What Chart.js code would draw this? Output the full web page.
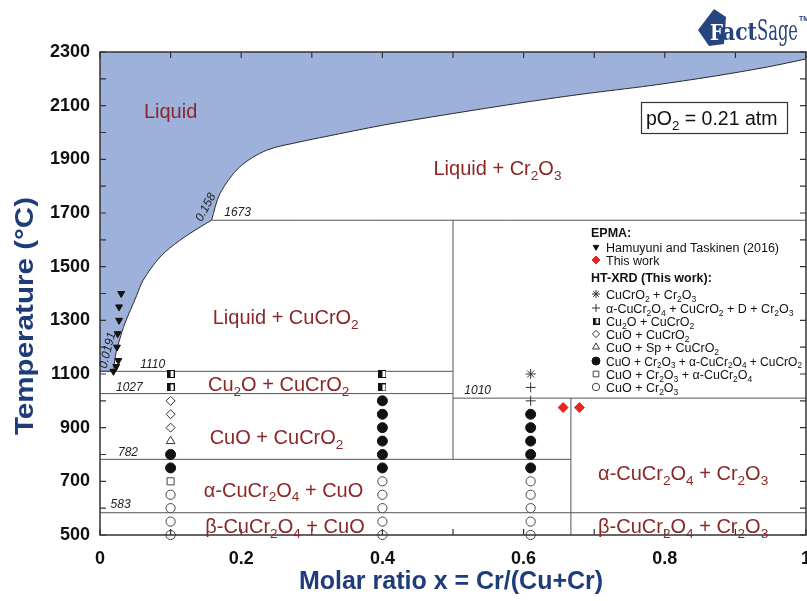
<!doctype html>
<html lang="en">
<head>
<meta charset="utf-8">
<title>CuO-Cr2O3 phase diagram in air</title>
<script src="https://cdn.jsdelivr.net/npm/chart.js@4.4.1/dist/chart.umd.min.js"></script>
<style>
  html, body { margin: 0; padding: 0; background: #fff; }
</style>
</head>
<body>
<canvas id="diagram" width="807" height="601"></canvas>
<script>
// liquidus, x = Cr/(Cu+Cr), T in degC; corners (eutectic, peritectic) are listed twice to keep them sharp
const liquidusX = [0, 0.0191, 0.0191, 0.022, 0.028, 0.035, 0.052, 0.061, 0.085, 0.113, 0.142, 0.158, 0.158, 0.170, 0.198, 0.236, 0.283, 0.32, 0.40, 0.47, 0.59, 0.68, 0.78, 0.87, 0.945, 1.0];
const liquidusT = [1110, 1110, 1110, 1170, 1230, 1287, 1393, 1449, 1536, 1598, 1648, 1673, 1673, 1773, 1872, 1934, 1965, 1985, 2027, 2058, 2108, 2142, 2175, 2210, 2244, 2274];

// invariant lines
const isothermT    = [1673, 1110, 1027, 1010, 782, 583];
const isothermFrom = [0.158, 0, 0, 0.5, 0, 0];
const isothermTo   = [1, 0.5, 0.5, 1, 0.667, 1];
const verticalX    = [0.5, 0.667];
const verticalFrom = [782, 500];
const verticalTo   = [1673, 1010];

// HT-XRD samples
const sampleX = [0.1, 0.4, 0.61];
const sampleT = [1100, 1050, 1000, 950, 900, 850, 800, 750, 700, 650, 600, 550, 500];
const phasesAt010 = ['half', 'half', 'diamond', 'diamond', 'diamond', 'triangle', 'filled', 'filled', 'square', 'open', 'open', 'open', 'open'];
const phasesAt040 = ['half', 'half', 'filled', 'filled', 'filled', 'filled', 'filled', 'filled', 'open', 'open', 'open', 'open', 'open'];
const phasesAt061 = ['star', 'plus', 'plus', 'filled', 'filled', 'filled', 'filled', 'filled', 'open', 'open', 'open', 'open', 'open'];

// EPMA
const hamuyuniX = [0.030, 0.027, 0.027, 0.025, 0.024, 0.026, 0.023, 0.019];
const hamuyuniT = [1400, 1350, 1300, 1250, 1200, 1150, 1128, 1110];
const thisWorkX = [0.656, 0.679];
const thisWorkT = [975, 975];

const FONT = '"Liberation Sans", Arial, sans-serif';
const RED_TEXT = '#8b2727';
const NAVY = '#1f3c7a';
const LOGO = '#26447f';

function halfSquare(size) {
  const c = document.createElement('canvas');
  c.width = size; c.height = size;
  const g = c.getContext('2d');
  g.fillStyle = '#fff'; g.fillRect(0, 0, size, size);
  g.fillStyle = '#111'; g.fillRect(0, 0, size / 2, size);
  g.strokeStyle = '#111'; g.lineWidth = 1; g.strokeRect(0.5, 0.5, size - 1, size - 1);
  return c;
}
const halfImg = halfSquare(8);
const halfImgSmall = halfSquare(7);

const markers = {
  star:     { pointStyle: 'star', radius: 5, border: '#333', fill: '#333', rot: 0 },
  plus:     { pointStyle: 'cross', radius: 5, border: '#333', fill: '#333', rot: 0 },
  half:     { pointStyle: halfImg, radius: 5, border: '#111', fill: '#111', rot: 0 },
  diamond:  { pointStyle: 'rectRot', radius: 4.5, border: '#333', fill: '#fff', rot: 0 },
  triangle: { pointStyle: 'triangle', radius: 5, border: '#333', fill: '#fff', rot: 0 },
  filled:   { pointStyle: 'circle', radius: 5, border: '#111', fill: '#111', rot: 0 },
  square:   { pointStyle: 'rect', radius: 5, border: '#444', fill: '#fff', rot: 0 },
  open:     { pointStyle: 'circle', radius: 4.6, border: '#444', fill: '#fff', rot: 0 },
  hamuyuni: { pointStyle: 'triangle', radius: 4, border: '#111', fill: '#111', rot: 180 },
  epma:     { pointStyle: 'rectRot', radius: 5, border: '#e8251f', fill: '#e8251f', rot: 0 }
};

function pts(xs, ts) { return xs.map((v, i) => ({ x: v, y: ts[i] })); }

function markerDataset(label, data, m) {
  return {
    type: 'scatter', label, data, order: 0, clip: false,
    pointStyle: m.pointStyle, pointRadius: m.radius, pointRotation: m.rot,
    pointBorderColor: m.border, pointBackgroundColor: m.fill, pointBorderWidth: 1,
    pointHoverRadius: m.radius
  };
}

const datasets = [];
// liquid field
datasets.push({
  type: 'line', label: 'liquidus', data: pts(liquidusX, liquidusT), order: 3,
  borderColor: '#2a2a2a', borderWidth: 1, backgroundColor: '#9db1da',
  fill: 'end', pointRadius: 0, tension: 0.3
});
// phase boundaries
isothermT.forEach((t, i) => {
  datasets.push({
    type: 'line', label: 'iso' + t, data: [{ x: isothermFrom[i], y: t }, { x: isothermTo[i], y: t }],
    order: 2, borderColor: '#555', borderWidth: 1, pointRadius: 0, fill: false
  });
});
verticalX.forEach((v, i) => {
  datasets.push({
    type: 'line', label: 'vert' + v, data: [{ x: v, y: verticalFrom[i] }, { x: v, y: verticalTo[i] }],
    order: 2, borderColor: '#555', borderWidth: 1, pointRadius: 0, fill: false
  });
});
// HT-XRD markers, one dataset per phase assemblage
const columns = [phasesAt010, phasesAt040, phasesAt061];
['half', 'diamond', 'triangle', 'filled', 'square', 'open', 'star', 'plus'].forEach(kind => {
  const data = [];
  columns.forEach((col, ci) => col.forEach((code, i) => {
    if (code === kind) data.push({ x: sampleX[ci], y: sampleT[i] });
  }));
  datasets.push(markerDataset(kind, data, markers[kind]));
});
datasets.push(markerDataset('hamuyuni', pts(hamuyuniX, hamuyuniT), markers.hamuyuni));
datasets.push(markerDataset('epma', pts(thisWorkX, thisWorkT), markers.epma));

// text with single-digit subscripts written as _2
function richText(ctx, str, x, y, size, opts) {
  opts = opts || {};
  const weight = opts.weight || 'normal', style = opts.style || 'normal';
  const subSize = size * 0.68;
  const parts = [];
  str.split(/(_\d)/).forEach(s => {
    if (!s) return;
    parts.push(s[0] === '_' ? { t: s.slice(1), sub: true } : { t: s, sub: false });
  });
  const fontOf = p => `${style} ${weight} ${p.sub ? subSize : size}px ${FONT}`;
  let w = 0;
  parts.forEach(p => { ctx.font = fontOf(p); p.w = ctx.measureText(p.t).width; w += p.w; });
  let cx = opts.align === 'left' ? x : x - w / 2;
  ctx.textAlign = 'left';
  ctx.textBaseline = 'alphabetic';
  parts.forEach(p => {
    ctx.font = fontOf(p);
    ctx.fillText(p.t, cx, p.sub ? y + size * 0.24 : y);
    cx += p.w;
  });
}

// text squeezed or stretched to a given width
function fitText(ctx, str, x, y, width) {
  const w = ctx.measureText(str).width;
  ctx.save();
  ctx.translate(x, y);
  ctx.scale(width / w, 1);
  ctx.textAlign = 'left';
  ctx.fillText(str, 0, 0);
  ctx.restore();
}

// field labels: text, x, T of baseline
const fieldLabels = [
  ['Liquid', 0.100, 2054],
  ['Liquid + Cr_2O_3', 0.563, 1842],
  ['Liquid + CuCrO_2', 0.263, 1286],
  ['Cu_2O + CuCrO_2', 0.253, 1036],
  ['CuO + CuCrO_2', 0.250, 839],
  ['α-CuCr_2O_4 + CuO', 0.260, 643],
  ['β-CuCr_2O_4 + CuO', 0.262, 508],
  ['α-CuCr_2O_4 + Cr_2O_3', 0.826, 705],
  ['β-CuCr_2O_4 + Cr_2O_3', 0.826, 508]
];
// invariant values: text, left x, T of baseline
const valueLabels = [
  ['1673', 0.176, 1690], ['1110', 0.057, 1121], ['1027', 0.0227, 1038],
  ['782', 0.0255, 793], ['583', 0.015, 600], ['1010', 0.516, 1027]
];
const slopeLabels = [
  ['0.158', 0.149, 1722, -62], ['0.0191', 0.0099, 1189, -76]
];

const legendRows = [
  { head: 'EPMA:' },
  { m: 'hamuyuni', t: 'Hamuyuni and Taskinen (2016)' },
  { m: 'epma', t: 'This work' },
  { head: 'HT-XRD (This work):' },
  { m: 'star', t: 'CuCrO_2 + Cr_2O_3' },
  { m: 'plus', t: 'α-CuCr_2O_4 + CuCrO_2 + D + Cr_2O_3' },
  { m: 'half', t: 'Cu_2O + CuCrO_2' },
  { m: 'diamond', t: 'CuO + CuCrO_2' },
  { m: 'triangle', t: 'CuO + Sp + CuCrO_2' },
  { m: 'filled', t: 'CuO + Cr_2O_3 + α-CuCr_2O_4 + CuCrO_2', small: true },
  { m: 'square', t: 'CuO + Cr_2O_3 + α-CuCr_2O_4' },
  { m: 'open', t: 'CuO + Cr_2O_3' }
];
const legendY = [233, 247, 260, 278, 294, 308, 321, 334, 347, 361, 374, 387];

function drawMarker(ctx, kind, x, y, scale) {
  const m = markers[kind];
  ctx.save();
  ctx.fillStyle = m.fill;
  ctx.strokeStyle = m.border;
  ctx.lineWidth = 1;
  const style = kind === 'half' ? halfImgSmall : m.pointStyle;
  if (Chart.helpers && Chart.helpers.drawPoint) {
    Chart.helpers.drawPoint(ctx, { pointStyle: style, radius: m.radius * scale, rotation: m.rot, borderWidth: 1 }, x, y);
  } else {
    ctx.beginPath(); ctx.arc(x, y, m.radius * scale, 0, Math.PI * 2); ctx.fill(); ctx.stroke();
  }
  ctx.restore();
}

function xTickLabel(v) {
  const k = Math.round(v * 10);
  if (k % 2) return '';
  return k === 0 ? '0' : k === 10 ? '1' : (k / 10).toFixed(1);
}

const decor = {
  id: 'decor',
  afterDraw(chart) {
    const { ctx, chartArea: a, scales: { x, y } } = chart;
    ctx.save();

    // frame and inward ticks
    ctx.strokeStyle = '#333';
    ctx.lineWidth = 1.5;
    ctx.strokeRect(a.left, a.top, a.right - a.left, a.bottom - a.top);
    ctx.lineWidth = 1.2;
    ctx.beginPath();
    y.ticks.forEach(t => {
      const py = y.getPixelForValue(t.value);
      ctx.moveTo(a.left, py); ctx.lineTo(a.left + 6, py);
      ctx.moveTo(a.right, py); ctx.lineTo(a.right - 6, py);
    });
    x.ticks.forEach(t => {
      const px = x.getPixelForValue(t.value);
      ctx.moveTo(px, a.bottom); ctx.lineTo(px, a.bottom - 6);
      ctx.moveTo(px, a.top); ctx.lineTo(px, a.top + 6);
    });
    ctx.stroke();

    // x tick labels
    ctx.fillStyle = '#111';
    ctx.font = `bold 18px ${FONT}`;
    ctx.textAlign = 'center';
    ctx.textBaseline = 'alphabetic';
    x.ticks.forEach(t => {
      const s = xTickLabel(t.value);
      if (s) ctx.fillText(s, x.getPixelForValue(t.value), a.bottom + 29);
    });

    // field labels
    ctx.fillStyle = RED_TEXT;
    fieldLabels.forEach(([t, vx, vt]) => richText(ctx, t, x.getPixelForValue(vx), y.getPixelForValue(vt), 20));

    // invariant values
    ctx.fillStyle = '#222';
    valueLabels.forEach(([t, vx, vt]) => richText(ctx, t, x.getPixelForValue(vx), y.getPixelForValue(vt), 12, { style: 'italic', align: 'left' }));
    slopeLabels.forEach(([t, vx, vt, deg]) => {
      ctx.save();
      ctx.translate(x.getPixelForValue(vx), y.getPixelForValue(vt));
      ctx.rotate(deg * Math.PI / 180);
      richText(ctx, t, 0, 4, 12, { style: 'italic' });
      ctx.restore();
    });

    // legend
    legendRows.forEach((r, i) => {
      const by = legendY[i];
      ctx.fillStyle = '#111';
      if (r.head) {
        richText(ctx, r.head, 591, by + 4, 12.5, { weight: 'bold', align: 'left' });
      } else {
        drawMarker(ctx, r.m, 596, by, 0.8);
        ctx.fillStyle = '#111';
        richText(ctx, r.t, 606, by + 4.5, r.small ? 12 : 12.5, { align: 'left' });
      }
    });

    // pO2 box
    ctx.strokeStyle = '#333';
    ctx.lineWidth = 1.2;
    ctx.strokeRect(641.5, 102.5, 146, 31);
    ctx.fillStyle = '#111';
    richText(ctx, 'pO_2 = 0.21 atm', 646, 125, 19.5, { align: 'left' });

    // axis titles
    ctx.fillStyle = NAVY;
    ctx.font = `bold 25px ${FONT}`;
    ctx.textBaseline = 'alphabetic';
    ctx.textAlign = 'center';
    ctx.fillText('Molar ratio x = Cr/(Cu+Cr)', 451, 589);
    ctx.save();
    ctx.translate(33, 316);
    ctx.rotate(-Math.PI / 2);
    ctx.font = `bold 25px ${FONT}`;
    fitText(ctx, 'Temperature (°C)', -119, 0, 238);
    ctx.restore();

    // FactSage mark
    ctx.save();
    ctx.fillStyle = LOGO;
    ctx.beginPath();
    ctx.moveTo(698, 30); ctx.lineTo(714, 9); ctx.lineTo(726, 17);
    ctx.lineTo(724, 44); ctx.lineTo(709, 46);
    ctx.closePath();
    ctx.fill();
    ctx.fillStyle = '#fff';
    ctx.font = `bold 22px "DejaVu Serif", serif`;
    ctx.textBaseline = 'alphabetic';
    fitText(ctx, 'F', 710, 40, 13);
    ctx.fillStyle = LOGO;
    ctx.font = `bold 24px "DejaVu Serif", serif`;
    fitText(ctx, 'act', 722, 40, 35);
    ctx.font = `28px "DejaVu Serif Condensed", "DejaVu Serif", serif`;
    fitText(ctx, 'Sage', 757, 40, 41);
    ctx.font = `bold 7px ${FONT}`;
    ctx.textAlign = 'left';
    ctx.fillText('TM', 799, 21);
    ctx.restore();

    ctx.restore();
  }
};

new Chart(document.getElementById('diagram'), {
  type: 'scatter',
  data: { datasets },
  plugins: [decor],
  options: {
    responsive: false,
    animation: false,
    layout: { autoPadding: false, padding: { top: 52, right: 1, left: 0, bottom: 0 } },
    plugins: { legend: { display: false }, tooltip: { enabled: false } },
    scales: {
      x: {
        type: 'linear', min: 0, max: 1,
        grid: { display: false }, border: { display: false },
        ticks: { display: false, stepSize: 0.1, autoSkip: false, maxTicksLimit: 100 },
        afterFit: s => { s.height = 66; }
      },
      y: {
        type: 'linear', min: 500, max: 2300,
        grid: { display: false }, border: { display: false },
        ticks: {
          stepSize: 100, autoSkip: false, maxTicksLimit: 100, padding: 2,
          color: '#111', font: { family: FONT, size: 18, weight: 'bold' },
          callback: v => ((Math.round(v) - 500) % 200 === 0 ? String(Math.round(v)) : '')
        },
        afterFit: s => { s.width = 100; s.paddingTop = 0; s.paddingBottom = 0; }
      }
    }
  }
});
</script>
</body>
</html>
